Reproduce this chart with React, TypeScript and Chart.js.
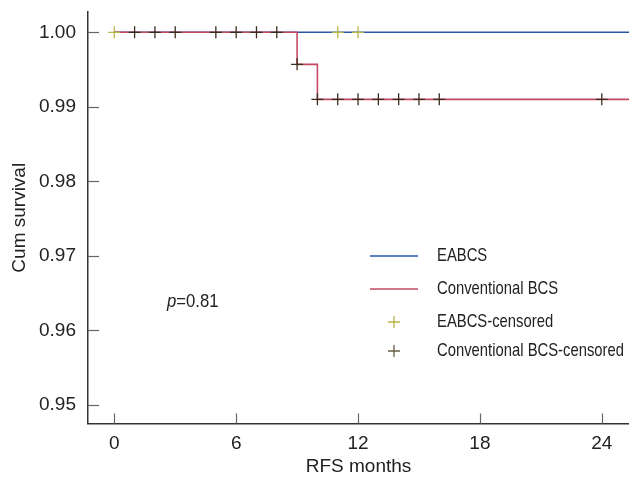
import { useEffect, useRef } from 'react';
import { Chart, registerables } from 'chart.js';

Chart.register(...registerables);

// ---- data ----
const X_TICKS = [0, 6, 12, 18, 24];
const Y_TICKS = [0.95, 0.96, 0.97, 0.98, 0.99, 1.0];

const EABCS_TIMES = [0, 26];
const EABCS_SURV = [1, 1];

const CONV_TIMES = [0, 9, 10, 26];
const CONV_SURV = [1, 0.9957, 0.991, 0.991];

const EABCS_CENS_TIMES = [0, 11, 12];
const EABCS_CENS_SURV = [1, 1, 1];

const CONV_CENS_TIMES = [1, 2, 3, 5, 6, 7, 8, 9, 10, 11, 12, 13, 14, 15, 16, 24];
const CONV_CENS_SURV = [1, 1, 1, 1, 1, 1, 1, 0.9957, 0.991, 0.991, 0.991, 0.991, 0.991, 0.991, 0.991, 0.991];

const LEGEND_LABELS = ['EABCS', 'Conventional BCS', 'EABCS-censored', 'Conventional BCS-censored'];
const P_VALUE = '0.81';
const X_TITLE = 'RFS months';
const Y_TITLE = 'Cum survival';

// ---- styles ----
const FONT = '"Liberation Sans", Arial, sans-serif';
const TEXT = '#222222';
const BLUE = '#2a56a8';
const RED = '#c24a62';
const YEL = '#b9b54a';
const DARK = '#3b2d1c';

const toXY = (xs: number[], ys: number[]) => xs.map((x, i) => ({ x, y: ys[i] }));

const overlay = {
  id: 'overlay',
  afterDraw(chart: any) {
    const { ctx, chartArea, scales } = chart;
    const xs = scales.x;
    const ys = scales.y;
    ctx.save();
    // inside tick marks
    ctx.strokeStyle = '#666';
    ctx.lineWidth = 1.2;
    Y_TICKS.forEach((v) => {
      const py = Math.round(ys.getPixelForValue(v)) + 0.5;
      ctx.beginPath();
      ctx.moveTo(chartArea.left, py);
      ctx.lineTo(chartArea.left + 11, py);
      ctx.stroke();
    });
    X_TICKS.forEach((v) => {
      const px = Math.round(xs.getPixelForValue(v)) + 0.5;
      ctx.beginPath();
      ctx.moveTo(px, chartArea.bottom);
      ctx.lineTo(px, chartArea.bottom - 10);
      ctx.stroke();
    });

    // legend
    const lx0 = 370, lx1 = 418, tx = 437;
    const rows = [256, 289, 322, 351];
    ctx.lineWidth = 1.5;
    ctx.strokeStyle = BLUE;
    ctx.beginPath(); ctx.moveTo(lx0, rows[0]); ctx.lineTo(lx1, rows[0]); ctx.stroke();
    ctx.strokeStyle = RED;
    ctx.beginPath(); ctx.moveTo(lx0, rows[1]); ctx.lineTo(lx1, rows[1]); ctx.stroke();
    const cross = (cx: number, cy: number, col: string) => {
      ctx.strokeStyle = col;
      ctx.lineWidth = 1.3;
      ctx.beginPath();
      ctx.moveTo(cx - 6, cy); ctx.lineTo(cx + 6, cy);
      ctx.moveTo(cx, cy - 6); ctx.lineTo(cx, cy + 6);
      ctx.stroke();
    };
    cross(394, rows[2], YEL);
    cross(394, rows[3], '#6b5e48');

    const squeezedText = (t: string, x: number, y: number, font: string, sq: number) => {
      ctx.save();
      ctx.font = font;
      ctx.fillStyle = TEXT;
      ctx.textBaseline = 'middle';
      ctx.textAlign = 'left';
      ctx.translate(x, y);
      ctx.scale(sq, 1);
      ctx.fillText(t, 0, 0);
      const w = ctx.measureText(t).width * sq;
      ctx.restore();
      return w;
    };
    LEGEND_LABELS.forEach((t, i) => squeezedText(t, tx, rows[i], `19px ${FONT}`, 0.78));

    // p-value
    const pw = squeezedText('p', 167, 302, `italic 19px ${FONT}`, 0.88);
    squeezedText('=' + P_VALUE, 167 + pw, 302, `19px ${FONT}`, 0.88);
    ctx.restore();
  },
};

export default function App() {
  const ref = useRef<HTMLCanvasElement>(null);
  useEffect(() => {
    if (!ref.current) return;
    const chart = new Chart(ref.current, {
      type: 'scatter',
      data: {
        datasets: [
          {
            label: 'EABCS-censored',
            data: toXY(EABCS_CENS_TIMES, EABCS_CENS_SURV),
            showLine: false,
            pointStyle: 'cross',
            pointRadius: 6,
            pointHoverRadius: 6,
            pointBorderWidth: 1.3,
            borderColor: YEL,
            backgroundColor: YEL,
          },
          {
            label: 'Conventional BCS-censored',
            data: toXY(CONV_CENS_TIMES, CONV_CENS_SURV),
            showLine: false,
            pointStyle: 'cross',
            pointRadius: 6,
            pointHoverRadius: 6,
            pointBorderWidth: 1.3,
            borderColor: DARK,
            backgroundColor: DARK,
          },
          {
            label: 'Conventional BCS',
            data: toXY(CONV_TIMES, CONV_SURV),
            showLine: true,
            stepped: true,
            pointRadius: 0,
            borderWidth: 1.6,
            borderColor: RED,
            backgroundColor: RED,
          },
          {
            label: 'EABCS',
            data: toXY(EABCS_TIMES, EABCS_SURV),
            showLine: true,
            stepped: true,
            pointRadius: 0,
            borderWidth: 1.6,
            borderColor: BLUE,
            backgroundColor: BLUE,
          },
        ],
      },
      options: {
        responsive: false,
        animation: false,
        devicePixelRatio: 1,
        events: [],
        layout: { autoPadding: false, padding: { top: 12, right: 0, left: 0, bottom: 0 } },
        plugins: { legend: { display: false }, tooltip: { enabled: false } },
        scales: {
          x: {
            type: 'linear',
            min: -1.294,
            max: 25.34,
            afterBuildTicks: (s: any) => { s.ticks = X_TICKS.map((v) => ({ value: v })); },
            afterFit: (s: any) => {
              s.height = 58.5;
              s.paddingLeft = 0; s.paddingRight = 0; s.paddingTop = 0; s.paddingBottom = 0;
            },
            grid: { display: false, drawTicks: false },
            border: { display: true, color: '#333', width: 1.5 },
            ticks: {
              padding: 9,
              color: TEXT,
              font: { family: FONT, size: 19 },
              callback: (v: any) => String(v),
            },
            title: {
              display: true,
              text: X_TITLE,
              color: TEXT,
              font: { family: FONT, size: 19 },
              padding: { top: 0, bottom: 4 },
            },
          },
          y: {
            type: 'linear',
            min: 0.94752,
            max: 1.00272,
            afterBuildTicks: (s: any) => { s.ticks = Y_TICKS.map((v) => ({ value: v })); },
            afterFit: (s: any) => {
              s.width = 88;
              s.paddingLeft = 0; s.paddingRight = 0; s.paddingTop = 0; s.paddingBottom = 0;
            },
            grid: { display: false, drawTicks: false },
            border: { display: true, color: '#333', width: 1.5 },
            ticks: {
              padding: 12,
              color: TEXT,
              font: { family: FONT, size: 19 },
              callback: (v: any) => Number(v).toFixed(2),
            },
            title: {
              display: true,
              text: Y_TITLE,
              color: TEXT,
              font: { family: FONT, size: 19 },
              padding: { top: 8, bottom: 0 },
            },
          },
        },
      },
      plugins: [overlay],
    });
    return () => chart.destroy();
  }, []);
  return (
    <div style={{ position: 'fixed', left: 0, top: 0, width: 629, height: 482, background: '#fff' }}>
      <canvas ref={ref} width={629} height={482} style={{ width: 629, height: 482 }} />
    </div>
  );
}
